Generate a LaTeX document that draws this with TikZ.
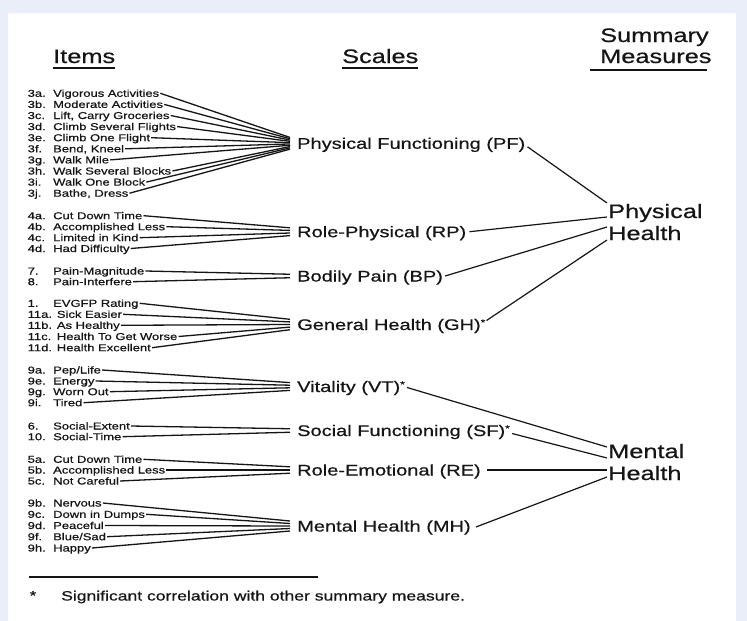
\documentclass[tikz,border=0pt]{standalone}
\usepackage{fontspec}
\setmainfont{Liberation Sans}[FakeStretch=1.3,FakeBold=0.6]
\usetikzlibrary{calc}
\definecolor{bgblue}{HTML}{E9EEF9}
\definecolor{ink}{HTML}{151515}
\newcommand\corrstar{\raisebox{4.5pt}{\fontsize{9}{9}\selectfont *}}
\begin{document}
\begin{tikzpicture}[x=1pt,y=-1pt,
  item/.style={inner sep=0pt, anchor=west, text height=7pt, text depth=0pt, font=\fontsize{10}{12}\selectfont, text=ink},
  scalelbl/.style={inner sep=0pt, anchor=west, text height=11pt, text depth=0pt, font=\fontsize{15.4}{18}\selectfont, text=ink},
  summ/.style={inner sep=0pt, anchor=base west, font=\fontsize{19.5}{22}\selectfont, text=ink},
  wire/.style={draw=ink, line width=1.2pt},
  iwire/.style={draw=ink, line width=1.3pt},
  uline/.style={draw=ink, line width=1.8pt}]
\fill[bgblue] (0,0) rectangle (747,621);
\fill[white] (8,12.5) rectangle (736,621);
\useasboundingbox (0,0) rectangle (747,621);

% headers
\node[summ] (hitems) at (53,63) {Items};
\node[summ] (hscales) at (342,63) {Scales};
\node[summ] (hsum1) at (600,42) {Summary};
\node[summ] (hsum2) at (600,63) {Measures};
\draw[uline] ([yshift=-5pt]hitems.base west) -- ([yshift=-5pt]hitems.base east);
\draw[uline] ([yshift=-5pt]hscales.base west) -- ([yshift=-5pt]hscales.base east);
\draw[uline] ([xshift=-10pt,yshift=-7pt]hsum2.base west) -- ([xshift=-5pt,yshift=-7pt]hsum2.base east);

% scales
\node[scalelbl] (pf) at (297,143.3) {Physical Functioning (PF)};
\node[scalelbl] (rp) at (297,231.7) {Role-Physical (RP)};
\node[scalelbl] (bp) at (297,276) {Bodily Pain (BP)};
\node[scalelbl] (gh) at (297,324.5) {General Health (GH)\corrstar};
\node[scalelbl] (vt) at (297,386.5) {Vitality (VT)\corrstar};
\node[scalelbl] (sf) at (297,430.5) {Social Functioning (SF)\corrstar};
\node[scalelbl] (re) at (297,470) {Role-Emotional (RE)};
\node[scalelbl] (mh) at (297,526) {Mental Health (MH)};

% summary measures
\node[summ] (ph1) at (608,218) {Physical};
\node[summ] (ph2) at (608,240) {Health};
\node[summ] (mn1) at (608,458) {Mental};
\node[summ] (mn2) at (608,480) {Health};

\draw[wire] ([xshift=2pt,yshift=-3.5pt]pf.east) -- ([xshift=-1pt,yshift=15pt]ph1.base west);
\draw[wire] ([xshift=3pt]rp.east) -- ([xshift=-1pt,yshift=1pt]ph1.base west);
\draw[wire] ([xshift=2pt]bp.east) -- ([xshift=-1pt,yshift=13pt]ph2.base west);
\draw[wire] ([xshift=1pt,yshift=4pt]gh.east) -- ([xshift=-1pt]ph2.base west);
\draw[wire] ([xshift=2pt,yshift=-1pt]vt.east) -- ([xshift=-1pt,yshift=11pt]mn1.base west);
\draw[wire] ([xshift=2pt,yshift=-3pt]sf.east) -- ([xshift=-1pt]mn1.base west);
\draw[wire] ([xshift=6pt]re.east) -- ([xshift=-1pt,yshift=10pt]mn2.base west);
\draw[wire] ([xshift=5pt,yshift=-1pt]mh.east) -- ([xshift=-1pt,yshift=3pt]mn2.base west);

% items: PF
\foreach \num/\txt/\yy/\ww [count=\i from 0] in {
  {3a.}/{Vigorous Activities}/93.3/25.5,
  {3b.}/{Moderate Activities}/104.4/25.5,
  {3c.}/{Lift, Carry Groceries}/115.5/25.5,
  {3d.}/{Climb Several Flights}/126.6/25.5,
  {3e.}/{Climb One Flight}/137.7/25.5,
  {3f.}/{Bend, Kneel}/148.8/25.5,
  {3g.}/{Walk Mile}/159.9/25.5,
  {3h.}/{Walk Several Blocks}/171/25.5,
  {3i.}/{Walk One Block}/182.1/25.5,
  {3j.}/{Bathe, Dress}/193.2/25.5}
{
  \node[item] (pfi\i) at (27.5,\yy) {\makebox[\ww pt][l]{\num}\txt};
  \pgfmathsetmacro\off{(4.5-\i)*1.3}
  \draw[iwire] ([xshift=1pt]pfi\i.east) -- ([xshift=-7pt,yshift=\off pt]pf.west);
}
% RP
\foreach \num/\txt/\yy/\ww [count=\i from 0] in {
  {4a.}/{Cut Down Time}/215.7/25.5,
  {4b.}/{Accomplished Less}/226.7/25.5,
  {4c.}/{Limited in Kind}/237.7/25.5,
  {4d.}/{Had Difficulty}/248.5/25.5}
{
  \node[item] (rpi\i) at (27.5,\yy) {\makebox[\ww pt][l]{\num}\txt};
  \pgfmathsetmacro\off{(1.5-\i)*2.6}
  \draw[iwire] ([xshift=1pt]rpi\i.east) -- ([xshift=-7pt,yshift=\off pt]rp.west);
}
% BP
\foreach \num/\txt/\yy/\ww [count=\i from 0] in {
  {7.}/{Pain-Magnitude}/271/25.5,
  {8.}/{Pain-Interfere}/281.7/25.5}
{
  \node[item] (bpi\i) at (27.5,\yy) {\makebox[\ww pt][l]{\num}\txt};
  \pgfmathsetmacro\off{(0.5-\i)*3.5}
  \draw[iwire] ([xshift=1pt]bpi\i.east) -- ([xshift=-7pt,yshift=\off pt]bp.west);
}
% GH
\foreach \num/\txt/\yy/\ww [count=\i from 0] in {
  {1.}/{EVGFP Rating}/303.3/25.5,
  {11a.}/{Sick Easier}/314.3/29.2,
  {11b.}/{As Healthy}/325.3/29.2,
  {11c.}/{Health To Get Worse}/336.5/29.2,
  {11d.}/{Health Excellent}/347.7/29.2}
{
  \node[item] (ghi\i) at (27.5,\yy) {\makebox[\ww pt][l]{\num}\txt};
  \pgfmathsetmacro\off{(2-\i)*2.6}
  \draw[iwire] ([xshift=1pt]ghi\i.east) -- ([xshift=-7pt,yshift=\off pt]gh.west);
}
% VT
\foreach \num/\txt/\yy/\ww [count=\i from 0] in {
  {9a.}/{Pep/Life}/370/25.5,
  {9e.}/{Energy}/381/25.5,
  {9g.}/{Worn Out}/391.7/25.5,
  {9i.}/{Tired}/402.7/25.5}
{
  \node[item] (vti\i) at (27.5,\yy) {\makebox[\ww pt][l]{\num}\txt};
  \pgfmathsetmacro\off{(1.5-\i)*2.6}
  \draw[iwire] ([xshift=1pt]vti\i.east) -- ([xshift=-7pt,yshift=\off pt]vt.west);
}
% SF
\foreach \num/\txt/\yy/\ww [count=\i from 0] in {
  {6.}/{Social-Extent}/426/25.5,
  {10.}/{Social-Time}/436.7/25.5}
{
  \node[item] (sfi\i) at (27.5,\yy) {\makebox[\ww pt][l]{\num}\txt};
  \pgfmathsetmacro\off{(0.5-\i)*3.5}
  \draw[iwire] ([xshift=1pt]sfi\i.east) -- ([xshift=-7pt,yshift=\off pt]sf.west);
}
% RE
\foreach \num/\txt/\yy/\ww [count=\i from 0] in {
  {5a.}/{Cut Down Time}/459.3/25.5,
  {5b.}/{Accomplished Less}/470/25.5,
  {5c.}/{Not Careful}/481/25.5}
{
  \node[item] (rei\i) at (27.5,\yy) {\makebox[\ww pt][l]{\num}\txt};
  \pgfmathsetmacro\off{(1-\i)*3.2}
  \draw[iwire] ([xshift=1pt]rei\i.east) -- ([xshift=-7pt,yshift=\off pt]re.west);
}
% MH
\foreach \num/\txt/\yy/\ww [count=\i from 0] in {
  {9b.}/{Nervous}/503/25.5,
  {9c.}/{Down in Dumps}/514.3/25.5,
  {9d.}/{Peaceful}/525.5/25.5,
  {9f.}/{Blue/Sad}/536.7/25.5,
  {9h.}/{Happy}/548/25.5}
{
  \node[item] (mhi\i) at (27.5,\yy) {\makebox[\ww pt][l]{\num}\txt};
  \pgfmathsetmacro\off{(2-\i)*2.5}
  \draw[iwire] ([xshift=1pt]mhi\i.east) -- ([xshift=-7pt,yshift=\off pt]mh.west);
}

% footnote
\coordinate (fa) at (29,577);
\coordinate (fb) at (318,577);
\draw[draw=ink, line width=1.4pt] (fa) -- (fb);
\node[inner sep=0pt, anchor=base, font=\fontsize{13}{13}\selectfont, text=ink] (fstar) at (33,600) {*};
\node[inner sep=0pt, anchor=base west, font=\fontsize{13.5}{16}\selectfont, text=ink] (fnote) at (61,600.5) {Significant correlation with other summary measure.};
\end{tikzpicture}
\end{document}
